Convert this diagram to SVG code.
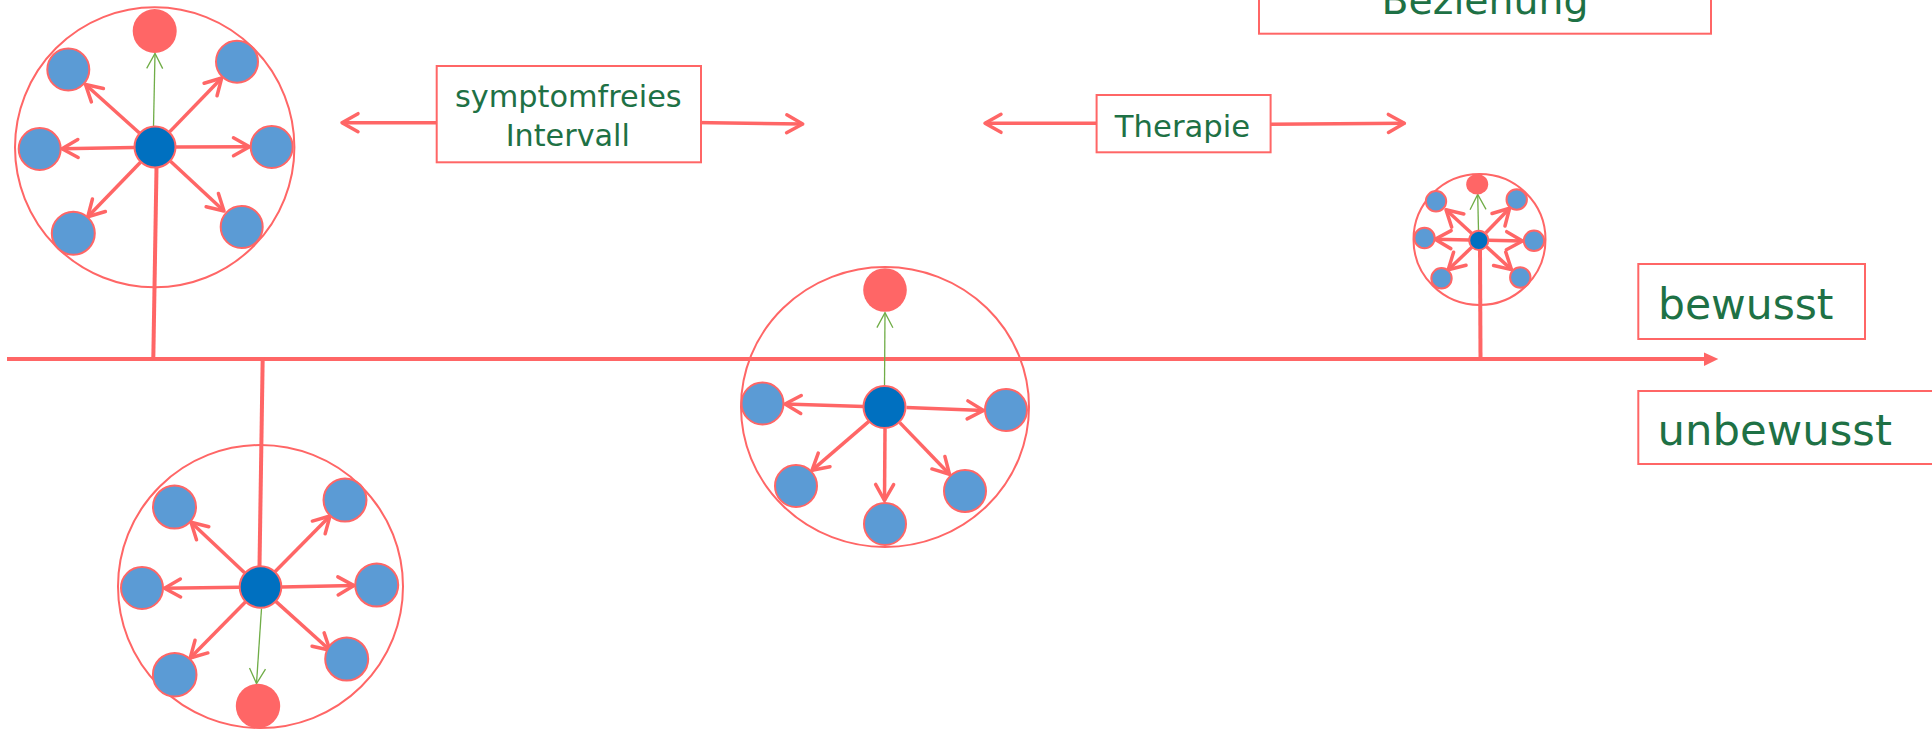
<svg xmlns="http://www.w3.org/2000/svg" width="1932" height="731" viewBox="0 0 1932 731">
<style>
.ring{fill:none;stroke:#FF6666;stroke-width:2}
.blue{fill:#5B9BD5;stroke:#FF6666;stroke-width:2}
.core{fill:#0070C0;stroke:#FF6666;stroke-width:2}
.red{fill:#FF6666}
.arr{stroke:#FF6666;stroke-width:3.5;fill:none;marker-end:url(#ah)}
.garr{stroke:#70AD47;stroke-width:1.3;fill:none;marker-end:url(#gh)}
.stem{stroke:#FF6666;stroke-width:4;fill:none}
.box{fill:#FFFFFF;stroke:#FF6666;stroke-width:2}
.lbl{font-family:"DejaVu Sans","Liberation Sans",sans-serif;fill:#1E7145}
</style>
<defs>
<marker id="ah" viewBox="-20 -12 24 24" refX="0" refY="0" markerWidth="24" markerHeight="24" markerUnits="userSpaceOnUse" orient="auto">
<path d="M-16,-9 L0,0 L-16,9" fill="none" stroke="#FF6666" stroke-width="3.5" stroke-linecap="round" stroke-linejoin="round"/>
</marker>
<marker id="gh" viewBox="-20 -12 24 24" refX="0" refY="0" markerWidth="24" markerHeight="24" markerUnits="userSpaceOnUse" orient="auto">
<path d="M-15,-8 L0,0 L-15,8" fill="none" stroke="#70AD47" stroke-width="1.3"/>
</marker>
</defs>
<rect width="1932" height="731" fill="#FFFFFF"/>

<!-- rings -->
<g id="rings">
<ellipse class="ring" cx="154.7" cy="147.3" rx="139.7" ry="140"/>
<ellipse class="ring" cx="260.5" cy="586.5" rx="142.5" ry="141.5"/>
<ellipse class="ring" cx="885" cy="407" rx="144" ry="140"/>
<ellipse class="ring" cx="1479.5" cy="239.5" rx="66" ry="65.5"/>
</g>

<!-- connectors -->
<g id="connectors">
<line class="stem" x1="7" y1="359" x2="1705" y2="359"/>
<polygon points="1704,352.5 1718.3,359 1704,366" fill="#FF6666"/>
<line class="stem" x1="156.5" y1="168" x2="153.3" y2="359"/>
<line class="stem" x1="262.7" y1="357" x2="259.5" y2="566"/>
<line class="stem" x1="1480" y1="250" x2="1480.5" y2="359"/>

<!-- cluster 1 arrows -->
<line class="arr" x1="139.4" y1="133" x2="85.5" y2="84.5"/>
<line class="arr" x1="169.6" y1="131.9" x2="221.7" y2="78"/>
<line class="arr" x1="134" y1="147.4" x2="62" y2="148.8"/>
<line class="arr" x1="176" y1="147" x2="249.5" y2="146.7"/>
<line class="arr" x1="140.5" y1="162.2" x2="87.8" y2="216.8"/>
<line class="arr" x1="170.5" y1="161.2" x2="224" y2="211"/>
<line class="garr" x1="153.5" y1="126.5" x2="155" y2="53.5"/>

<!-- cluster 2 arrows -->
<line class="arr" x1="244.6" y1="572.7" x2="191" y2="522.3"/>
<line class="arr" x1="274.7" y1="572" x2="330" y2="516"/>
<line class="arr" x1="239" y1="587.2" x2="164.5" y2="588.2"/>
<line class="arr" x1="281.5" y1="587" x2="354" y2="585.6"/>
<line class="arr" x1="245.4" y1="602.1" x2="190.2" y2="658"/>
<line class="arr" x1="275.5" y1="601.1" x2="330" y2="650.3"/>
<line class="garr" x1="261.5" y1="608.5" x2="256.5" y2="683.5"/>

<!-- cluster 3 arrows -->
<line class="arr" x1="863.5" y1="406.4" x2="785" y2="404"/>
<line class="arr" x1="906.5" y1="407.5" x2="983.5" y2="410.5"/>
<line class="arr" x1="868.9" y1="421.3" x2="812" y2="470.3"/>
<line class="arr" x1="885" y1="428.5" x2="884.5" y2="500.5"/>
<line class="arr" x1="899.8" y1="422.6" x2="949.5" y2="474.2"/>
<line class="garr" x1="884.5" y1="385.5" x2="885" y2="312.7"/>

<!-- cluster 4 arrows -->
<line class="arr" x1="1471.6" y1="233.3" x2="1446" y2="209.7"/>
<line class="arr" x1="1485.9" y1="232.8" x2="1509.6" y2="208.2"/>
<line class="arr" x1="1469.5" y1="240" x2="1435" y2="239.3"/>
<line class="arr" x1="1488.5" y1="240.3" x2="1522.5" y2="241"/>
<line class="arr" x1="1472" y1="247.1" x2="1448.2" y2="269.8"/>
<line class="arr" x1="1486.5" y1="246.7" x2="1511.5" y2="269.6"/>
<line class="garr" x1="1478.5" y1="230.5" x2="1477.7" y2="194.5"/>

<!-- label arrows -->
<line class="arr" x1="459.3" y1="122.7" x2="342" y2="122.7"/>
<line class="arr" x1="675.7" y1="122.3" x2="802.7" y2="124"/>
<line class="arr" x1="1096.6" y1="123.3" x2="985" y2="123.3"/>
<line class="arr" x1="1270.6" y1="124.3" x2="1404.4" y2="123.3"/>
</g>

<!-- cluster 1 nodes -->
<g id="cluster1">
<g id="c1-core"><circle class="core" cx="155" cy="147" r="20.5"/></g>
<g id="c1-red"><circle class="red" cx="154.7" cy="31" r="22"/></g>
<g id="c1-tl"><circle class="blue" cx="68.3" cy="69.5" r="21"/></g>
<g id="c1-tr"><circle class="blue" cx="237" cy="61.7" r="21"/></g>
<g id="c1-l"><circle class="blue" cx="39.7" cy="149" r="21"/></g>
<g id="c1-r"><circle class="blue" cx="271.7" cy="147" r="21"/></g>
<g id="c1-bl"><circle class="blue" cx="73.3" cy="233.3" r="21.5"/></g>
<g id="c1-br"><circle class="blue" cx="241.7" cy="227" r="21"/></g>
</g>

<!-- cluster 2 nodes -->
<g id="cluster2">
<g id="c2-core"><circle class="core" cx="260.5" cy="587" r="20.8"/></g>
<g id="c2-red"><circle class="red" cx="258" cy="706" r="22.2"/></g>
<g id="c2-tl"><circle class="blue" cx="174.5" cy="507" r="21.5"/></g>
<g id="c2-tr"><circle class="blue" cx="345" cy="500" r="21.5"/></g>
<g id="c2-l"><circle class="blue" cx="142" cy="588" r="21"/></g>
<g id="c2-r"><circle class="blue" cx="376.7" cy="585" r="21.5"/></g>
<g id="c2-bl"><circle class="blue" cx="174.7" cy="674.7" r="21.8"/></g>
<g id="c2-br"><circle class="blue" cx="346.7" cy="659" r="21.5"/></g>
</g>

<!-- cluster 3 nodes -->
<g id="cluster3">
<g id="c3-core"><circle class="core" cx="884.5" cy="407" r="21"/></g>
<g id="c3-red"><circle class="red" cx="885" cy="290" r="21.8"/></g>
<g id="c3-l"><circle class="blue" cx="762.5" cy="403.5" r="21"/></g>
<g id="c3-r"><circle class="blue" cx="1006" cy="410" r="21"/></g>
<g id="c3-bl"><circle class="blue" cx="796" cy="486" r="21"/></g>
<g id="c3-b"><circle class="blue" cx="885" cy="524" r="21"/></g>
<g id="c3-br"><circle class="blue" cx="965" cy="491" r="21"/></g>
</g>

<!-- cluster 4 nodes -->
<g id="cluster4">
<g id="c4-core"><circle class="core" cx="1478.8" cy="240.3" r="9.6"/></g>
<g id="c4-red"><ellipse class="red" cx="1477.2" cy="184.3" rx="11" ry="10.2"/></g>
<g id="c4-tl"><circle class="blue" cx="1436" cy="201.3" r="10.2"/></g>
<g id="c4-tr"><circle class="blue" cx="1516.7" cy="199.5" r="10.2"/></g>
<g id="c4-l"><circle class="blue" cx="1424.5" cy="238" r="10.2"/></g>
<g id="c4-r"><circle class="blue" cx="1534" cy="240.8" r="10.2"/></g>
<g id="c4-bl"><circle class="blue" cx="1441.5" cy="278.3" r="10.2"/></g>
<g id="c4-br"><circle class="blue" cx="1520.3" cy="277.5" r="10.2"/></g>
</g>

<!-- label boxes -->
<g id="label-symptomfrei">
<rect class="box" x="436.7" y="66" width="264.3" height="96.3"/>
<text class="lbl" x="568.3" y="106.7" font-size="30" text-anchor="middle" textLength="226.7" lengthAdjust="spacingAndGlyphs">symptomfreies</text>
<text class="lbl" x="567.8" y="146" font-size="30" text-anchor="middle" textLength="124.3" lengthAdjust="spacingAndGlyphs">Intervall</text>
</g>
<g id="label-therapie">
<rect class="box" x="1096.6" y="95" width="174" height="57.3"/>
<text class="lbl" x="1182.5" y="136.7" font-size="30.5" text-anchor="middle" textLength="135.4" lengthAdjust="spacingAndGlyphs">Therapie</text>
</g>
<g id="label-beziehung">
<rect class="box" x="1259" y="-60" width="452" height="93.7"/>
<text class="lbl" x="1485" y="14" font-size="39.5" text-anchor="middle" textLength="207" lengthAdjust="spacingAndGlyphs">Beziehung</text>
</g>
<g id="label-bewusst">
<rect class="box" x="1638.3" y="264" width="226.7" height="75"/>
<text class="lbl" x="1658" y="319.3" font-size="43" textLength="175.5" lengthAdjust="spacingAndGlyphs">bewusst</text>
</g>
<g id="label-unbewusst">
<rect class="box" x="1638.3" y="391" width="310" height="73"/>
<text class="lbl" x="1657.5" y="445" font-size="43" textLength="234.4" lengthAdjust="spacingAndGlyphs">unbewusst</text>
</g>
</svg>
